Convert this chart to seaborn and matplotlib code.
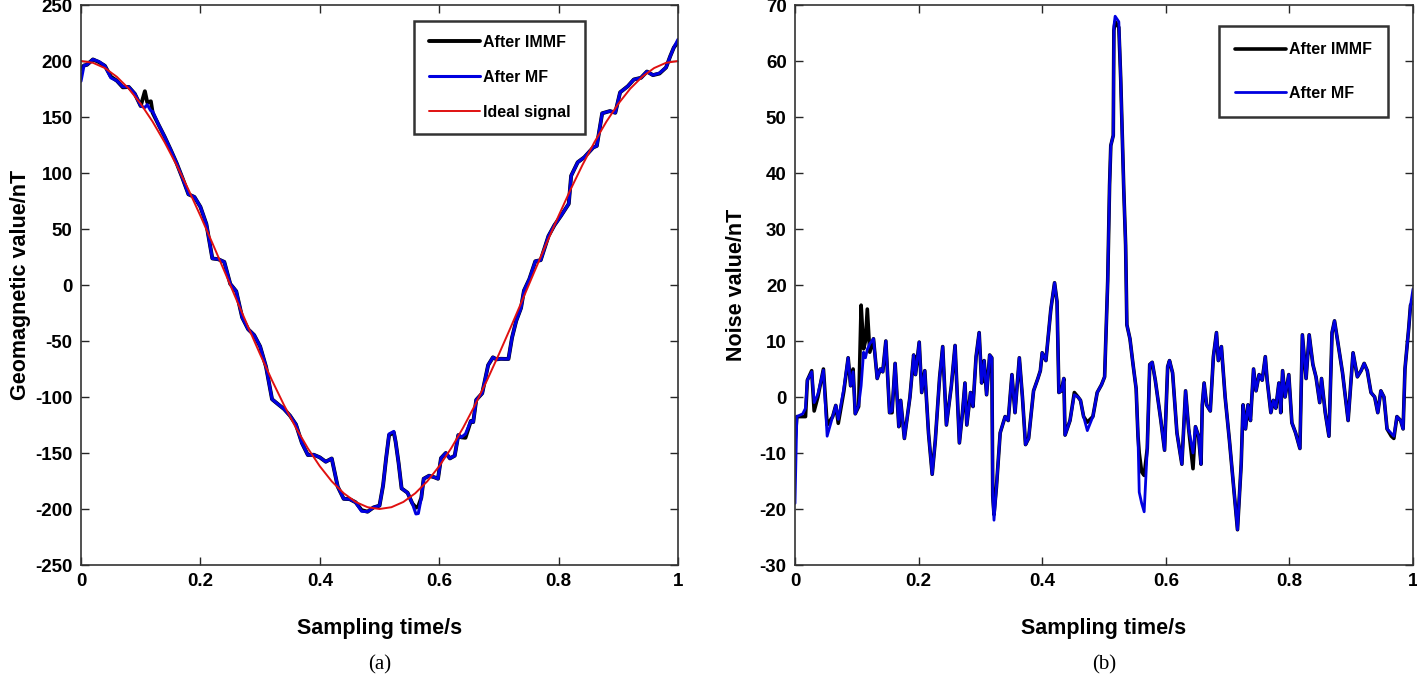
import numpy as np
import pandas as pd
import matplotlib
matplotlib.use("Agg")
import matplotlib.pyplot as plt
import seaborn as sns

# ---------------- data: panel (a) ----------------
ideal_t = [0.00, 0.02, 0.04, 0.06, 0.08, 0.10, 0.12, 0.14, 0.16, 0.18,
           0.20, 0.22, 0.24, 0.26, 0.28, 0.30, 0.32, 0.34, 0.36, 0.38,
           0.40, 0.42, 0.44, 0.46, 0.48, 0.50, 0.52, 0.54, 0.56, 0.58,
           0.60, 0.62, 0.64, 0.66, 0.68, 0.70, 0.72, 0.74, 0.76, 0.78,
           0.80, 0.82, 0.84, 0.86, 0.88, 0.90, 0.92, 0.94, 0.96, 0.98, 1.00]
ideal_v = [200, 198.4, 193.7, 185.9, 175.3, 161.8, 145.8, 127.5, 107.2, 85.2,
           61.8, 37.5, 12.6, -12.6, -37.5, -61.8, -85.2, -107.2, -127.5, -145.8,
           -161.8, -175.3, -185.9, -193.7, -198.4, -200, -198.4, -193.7, -185.9, -175.3,
           -161.8, -145.8, -127.5, -107.2, -85.2, -61.8, -37.5, -12.6, 12.6, 37.5,
           61.8, 85.2, 107.2, 127.5, 145.8, 161.8, 175.3, 185.9, 193.7, 198.4, 200]

geo_t = [0.000, 0.005, 0.010, 0.020, 0.030, 0.040, 0.050, 0.060, 0.070, 0.080,
         0.090, 0.100, 0.107, 0.111, 0.117, 0.120, 0.130, 0.140, 0.150, 0.160,
         0.170, 0.180, 0.190, 0.200, 0.210, 0.220, 0.230, 0.240, 0.250, 0.260,
         0.270, 0.280, 0.290, 0.300, 0.310, 0.320, 0.330, 0.340, 0.350, 0.360,
         0.370, 0.380, 0.390, 0.400, 0.410, 0.420, 0.430, 0.440, 0.450, 0.460,
         0.470, 0.480, 0.490, 0.500, 0.506, 0.511, 0.516, 0.524, 0.527, 0.532,
         0.537, 0.547, 0.555, 0.561, 0.565, 0.570, 0.574, 0.583, 0.592, 0.598,
         0.603, 0.611, 0.618, 0.626, 0.632, 0.637, 0.644, 0.653, 0.657, 0.662,
         0.672, 0.682, 0.690, 0.696, 0.703, 0.710, 0.716, 0.722, 0.729, 0.737,
         0.742, 0.751, 0.761, 0.770, 0.783, 0.793, 0.804, 0.817, 0.821, 0.832,
         0.843, 0.858, 0.864, 0.873, 0.886, 0.895, 0.903, 0.916, 0.926, 0.938,
         0.948, 0.958, 0.969, 0.980, 0.987, 0.993, 1.000]
geo_immf = [193, 196, 196.6, 201.4, 199, 195.7, 186, 182.4, 176.5, 176.8,
            170.8, 159.8, 173, 163, 164, 153.8, 143, 132.5, 121, 109,
            95.4, 81, 78.6, 69.8, 54.4, 23.7, 23, 20.6, 1, -5.6,
            -29, -39.5, -44.7, -54.8, -73.2, -102, -106.4, -110.7, -116.6, -124.5,
            -141, -151.8, -151.6, -153.9, -157.8, -154.9, -180, -190.9, -191.2, -194,
            -201, -202.4, -198.6, -197, -179, -155, -134, -131.7, -140, -159,
            -181.6, -185.5, -195, -198.8, -197.5, -190, -173, -170.3, -171.7, -173,
            -154.6, -150, -154.8, -152.4, -134, -136, -136.4, -121.4, -122.4, -102.6,
            -96.7, -71.5, -64.6, -66.4, -65.9, -66, -66, -47, -32, -20.6,
            -5, 5.3, 21.2, 22.2, 43.7, 53.4, 61.8, 72.5, 97.5, 109.6,
            114, 122.8, 124.2, 153.3, 155.3, 153.8, 172, 177.5, 183.5, 185,
            190.6, 187.4, 188.8, 194.2, 204.3, 212, 217]
geo_mf = [182, 196, 196.6, 201.4, 199.5, 195.7, 185, 182.4, 177, 176.8,
          170.8, 159.8, 158.5, 161, 155.5, 155, 143, 132.5, 121, 109,
          95.4, 81, 78.6, 69.8, 54.4, 23.7, 23, 20.6, 1, -5.6,
          -29, -39.5, -44.7, -54.8, -73.2, -102, -106.4, -110.7, -116.6, -124.5,
          -141, -151.8, -151.6, -153.9, -157.8, -154.9, -180, -190.9, -191.2, -194,
          -202, -202.4, -198.6, -197, -179, -155, -133, -130.7, -140, -159,
          -181.6, -185.5, -195, -204.4, -204, -190, -173, -170.3, -171.7, -173,
          -154.6, -150, -154.8, -152.4, -134, -136, -133, -121.4, -122.4, -102.6,
          -96.7, -71.5, -64.6, -66.4, -65.9, -66, -66, -47, -32, -20.6,
          -5, 5.3, 21.2, 22.2, 43.7, 53.4, 61.8, 72.5, 97.5, 109.6,
          114, 122.8, 124.2, 153.3, 155.3, 153.8, 172, 177.5, 183.5, 185,
          190.6, 187.4, 189.2, 194.2, 204.3, 212, 219.3]

# ---------------- data: panel (b) ----------------
noise_t = [0.000, 0.003, 0.0125, 0.017, 0.020, 0.027, 0.031, 0.037, 0.046, 0.052,
           0.061, 0.066, 0.070, 0.079, 0.086, 0.090, 0.094, 0.0975, 0.103, 0.107,
           0.111, 0.114, 0.117, 0.121, 0.127, 0.133, 0.138, 0.142, 0.147, 0.153,
           0.157, 0.162, 0.168, 0.171, 0.177, 0.186, 0.192, 0.195, 0.201, 0.205,
           0.210, 0.216, 0.222, 0.227, 0.234, 0.239, 0.245, 0.253, 0.259, 0.266,
           0.271, 0.275, 0.278, 0.284, 0.288, 0.293, 0.298, 0.302, 0.306, 0.310,
           0.315, 0.3185, 0.320, 0.322, 0.326, 0.332, 0.340, 0.345, 0.351, 0.356,
           0.363, 0.368, 0.373, 0.378, 0.386, 0.393, 0.397, 0.400, 0.406, 0.414,
           0.420, 0.424, 0.427, 0.431, 0.435, 0.437, 0.445, 0.452, 0.458, 0.462,
           0.467, 0.473, 0.482, 0.489, 0.496, 0.501, 0.506, 0.509, 0.511, 0.515,
           0.516, 0.518, 0.524, 0.527, 0.532, 0.535, 0.537, 0.542, 0.547, 0.552,
           0.555, 0.557, 0.561, 0.565, 0.570, 0.574, 0.578, 0.583, 0.592, 0.598,
           0.603, 0.606, 0.611, 0.618, 0.626, 0.632, 0.637, 0.644, 0.648, 0.653,
           0.657, 0.659, 0.662, 0.666, 0.672, 0.677, 0.682, 0.685, 0.690, 0.696,
           0.703, 0.710, 0.716, 0.722, 0.725, 0.729, 0.733, 0.737, 0.742, 0.746,
           0.751, 0.756, 0.761, 0.764, 0.770, 0.774, 0.778, 0.783, 0.786, 0.789,
           0.793, 0.799, 0.804, 0.810, 0.817, 0.821, 0.827, 0.832, 0.838, 0.843,
           0.849, 0.852, 0.858, 0.864, 0.869, 0.873, 0.877, 0.886, 0.895, 0.903,
           0.910, 0.916, 0.921, 0.926, 0.932, 0.938, 0.943, 0.948, 0.953, 0.958,
           0.965, 0.969, 0.974, 0.980, 0.984, 0.987, 0.993, 0.996, 1.000]
noise_immf = [-8, -3.5, -3.5, -3.5, 3, 4.7, -2.5, 0, 5, -5,
              -3.5, -1.5, -4.7, 1, 7, 2, 5, -3, -1.7, 16.4,
              8.6, 10, 15.7, 8, 10.4, 3.3, 5, 4.5, 10, -2.8,
              -2.8, 6, -5.3, -0.6, -7.4, 0, 7.5, 4, 9.8, 0.8,
              4.7, -6.4, -13.8, -7.8, 3.5, 9, -5, 2, 9.2, -8.2,
              -2.8, 2.5, -5, 0.8, -1.7, 7.2, 11.5, 2.5, 6.5, 0.4,
              7.5, 7, -17.7, -21, -16, -6.4, -3.5, -4.2, 4, -2.8,
              7, 0, -8.5, -7.4, 1.1, 3.3, 4.7, 7.9, 6.5, 15.7,
              20.4, 17, 0.8, 1.1, 3.3, -6.8, -4.2, 0.8, 0, -0.6,
              -3.5, -4.5, -3.5, 0.8, 2.2, 3.6, 20.7, 37.8, 44.9, 46.7,
              65.5, 67, 66, 57, 37, 27.1, 12.9, 10.4, 5.8, 1.5,
              -7, -10, -13.4, -14, -9.2, 5.8, 6.2, 3, -4.2, -9.5,
              5.4, 6.5, 4.3, -6.4, -12, 1.1, -5.7, -12.8, -5.3, -7,
              -12, -1.4, 2.5, -1.4, -2.5, 7.2, 11.5, 6.5, 9, 0,
              -7.8, -16.3, -23.7, -12, -1.4, -5.7, -1.4, -4.2, 5, 1.1,
              4, 3, 7.2, 3, -2.8, -0.6, -2, 2.5, -2.8, 4.7,
              0, 4, -4.6, -6.4, -9.2, 11.1, 3.3, 11.1, 5.8, 3.6,
              -1, 3.3, -2.8, -7, 11.5, 13.6, 10.7, 4.3, -4.2, 7.9,
              3.6, 4.7, 6, 4.7, 0.8, 0, -2.8, 1.1, 0, -5.7,
              -7, -7.4, -3.5, -4.2, -5.7, 5, 12.2, 16.4, 17]
noise_mf = [-19, -3.5, -3, -2, 3, 4.5, -1, 0.5, 4.8, -7,
            -3.5, -1.5, -4, 1.5, 7, 2, 4.5, -3, -1.5, 2,
            8, 7, 8.5, 9.5, 10.4, 3.3, 5, 4.5, 10, -2.8,
            -2.5, 6, -5.3, -0.6, -7.4, 0, 7.5, 4, 9.8, 0.8,
            4.7, -6.4, -13.8, -7.8, 3.5, 9, -5, 2, 9.2, -8.2,
            -2.8, 2.5, -5, 0.8, -1.7, 7.2, 11.5, 2.5, 6.5, 0.4,
            7.5, 7, -17.7, -22, -16, -6.4, -3.5, -4.2, 4, -2.8,
            7, 0, -8.5, -7.4, 1.1, 3.3, 4.7, 7.9, 6.5, 15.7,
            20.4, 17, 0.8, 1.1, 3.3, -6.8, -4.2, 0.4, 0, -0.6,
            -3.5, -6, -3.5, 0.8, 2.2, 3.6, 20.7, 37.8, 44.9, 46.7,
            66.2, 68, 67, 57, 37, 27.1, 12.9, 10.4, 5.8, 1.5,
            -7, -17, -19, -20.5, -9.2, 5.8, 6.2, 3, -4.2, -9.5,
            5.4, 6.5, 4.3, -6.4, -12, 1.1, -5.7, -10, -5.3, -7,
            -12, -1.4, 2.5, -1.4, -2.5, 7.2, 11.5, 6.5, 9, 0,
            -7.8, -16.3, -23.7, -12, -1.4, -5.7, -1.4, -4.2, 5, 1.1,
            4, 3, 7.2, 3, -2.8, -0.6, -2, 2.5, -2.8, 4.7,
            0, 4, -4.6, -6.4, -9.2, 11.1, 3.3, 11.1, 5.8, 3.6,
            -1, 3.3, -2.8, -7, 11.5, 13.6, 10.7, 4.3, -4.2, 7.9,
            3.6, 4.7, 6, 4.7, 0.8, 0, -2.8, 1.1, 0, -5.7,
            -6.5, -7, -3.5, -4.2, -5.7, 5, 12.2, 16.4, 19.3]

assert len(noise_t) == len(noise_immf) == len(noise_mf)
assert len(geo_t) == len(geo_immf) == len(geo_mf)
assert len(ideal_t) == len(ideal_v)

x_ticks = [0, 0.2, 0.4, 0.6, 0.8, 1.0]
x_ticklabels = ["0", "0.2", "0.4", "0.6", "0.8", "1"]

# ---------------- style ----------------
sns.set_style("ticks")
plt.rcParams["font.family"] = ["Liberation Sans", "DejaVu Sans"]
plt.rcParams["font.weight"] = "bold"
plt.rcParams["text.color"] = "black"
plt.rcParams["axes.labelcolor"] = "black"
plt.rcParams["xtick.color"] = "black"
plt.rcParams["ytick.color"] = "black"

W, H = 1417, 686
fig = plt.figure(figsize=(W / 100, H / 100), dpi=100)
bottom = 1 - 565 / H
height = (565 - 5) / H
ax1 = fig.add_axes([81 / W, bottom, (678 - 81) / W, height])
ax2 = fig.add_axes([795 / W, bottom, (1413 - 795) / W, height])

BLACK = "#000000"
BLUE = "#0000E0"
RED = "#E01010"

# panel (a)
sns.lineplot(x=geo_t, y=geo_immf, ax=ax1, color=BLACK, lw=2.8, sort=False,
             estimator=None, label="After IMMF")
sns.lineplot(x=geo_t, y=geo_mf, ax=ax1, color=BLUE, lw=2.2, sort=False,
             estimator=None, label="After MF")
sns.lineplot(x=ideal_t, y=ideal_v, ax=ax1, color=RED, lw=1.4, sort=False,
             estimator=None, label="Ideal signal")

# panel (b)
sns.lineplot(x=noise_t, y=noise_immf, ax=ax2, color=BLACK, lw=2.6, sort=False,
             estimator=None, label="After IMMF")
sns.lineplot(x=noise_t, y=noise_mf, ax=ax2, color=BLUE, lw=2.0, sort=False,
             estimator=None, label="After MF")

def style(ax, ylim, yticks, ylabel, xlabel, ypad):
    ax.set_xlim(0, 1)
    ax.set_ylim(*ylim)
    ax.set_xticks(x_ticks)
    ax.set_xticklabels(x_ticklabels)
    ax.set_yticks(yticks)
    ax.set_yticklabels([f"{v:g}" for v in yticks])
    ax.tick_params(direction="in", top=True, right=True, length=6, width=1.0,
                   labelsize=13.5, color="0.15", labelcolor="black", pad=6)
    for lab in ax.get_xticklabels() + ax.get_yticklabels():
        lab.set_fontweight("bold")
    for sp in ax.spines.values():
        sp.set_visible(True)
        sp.set_linewidth(1.2)
        sp.set_color("0.2")
    ax.set_xlabel(xlabel, fontsize=15.5, fontweight="bold", labelpad=20,
                  color="black")
    ax.set_ylabel(ylabel, fontsize=15.5, fontweight="bold", labelpad=ypad,
                  color="black")

style(ax1, (-250, 250), list(range(-250, 251, 50)), "Geomagnetic value/nT",
      "Sampling time/s", 3)
style(ax2, (-30, 70), list(range(-30, 71, 10)), "Noise value/nT",
      "Sampling time/s", 9)

leg1 = ax1.legend(loc="upper right", bbox_to_anchor=(0.844, 0.972),
                  frameon=True, fancybox=False, framealpha=1, edgecolor="0.2",
                  prop=dict(weight="bold", size=11.5), handlelength=3.2,
                  labelspacing=1.25, borderpad=0.9, handletextpad=0.2,
                  borderaxespad=0)
leg1.get_frame().set_linewidth(1.8)
leg2 = ax2.legend(loc="upper right", bbox_to_anchor=(0.960, 0.962),
                  frameon=True, fancybox=False, framealpha=1, edgecolor="0.2",
                  prop=dict(weight="bold", size=11.5), handlelength=3.2,
                  labelspacing=1.8, borderpad=1.0, handletextpad=0.2,
                  borderaxespad=0)
leg2.get_frame().set_linewidth(1.8)

for ax, tag in [(ax1, "(a)"), (ax2, "(b)")]:
    pos = ax.get_position()
    fig.text((pos.x0 + pos.x1) / 2, 1 - 665 / H, tag, ha="center", va="center",
             fontsize=15, family=["Liberation Serif", "DejaVu Serif"],
             fontweight="normal", color="black")

fig.savefig("out.png", dpi=100)
